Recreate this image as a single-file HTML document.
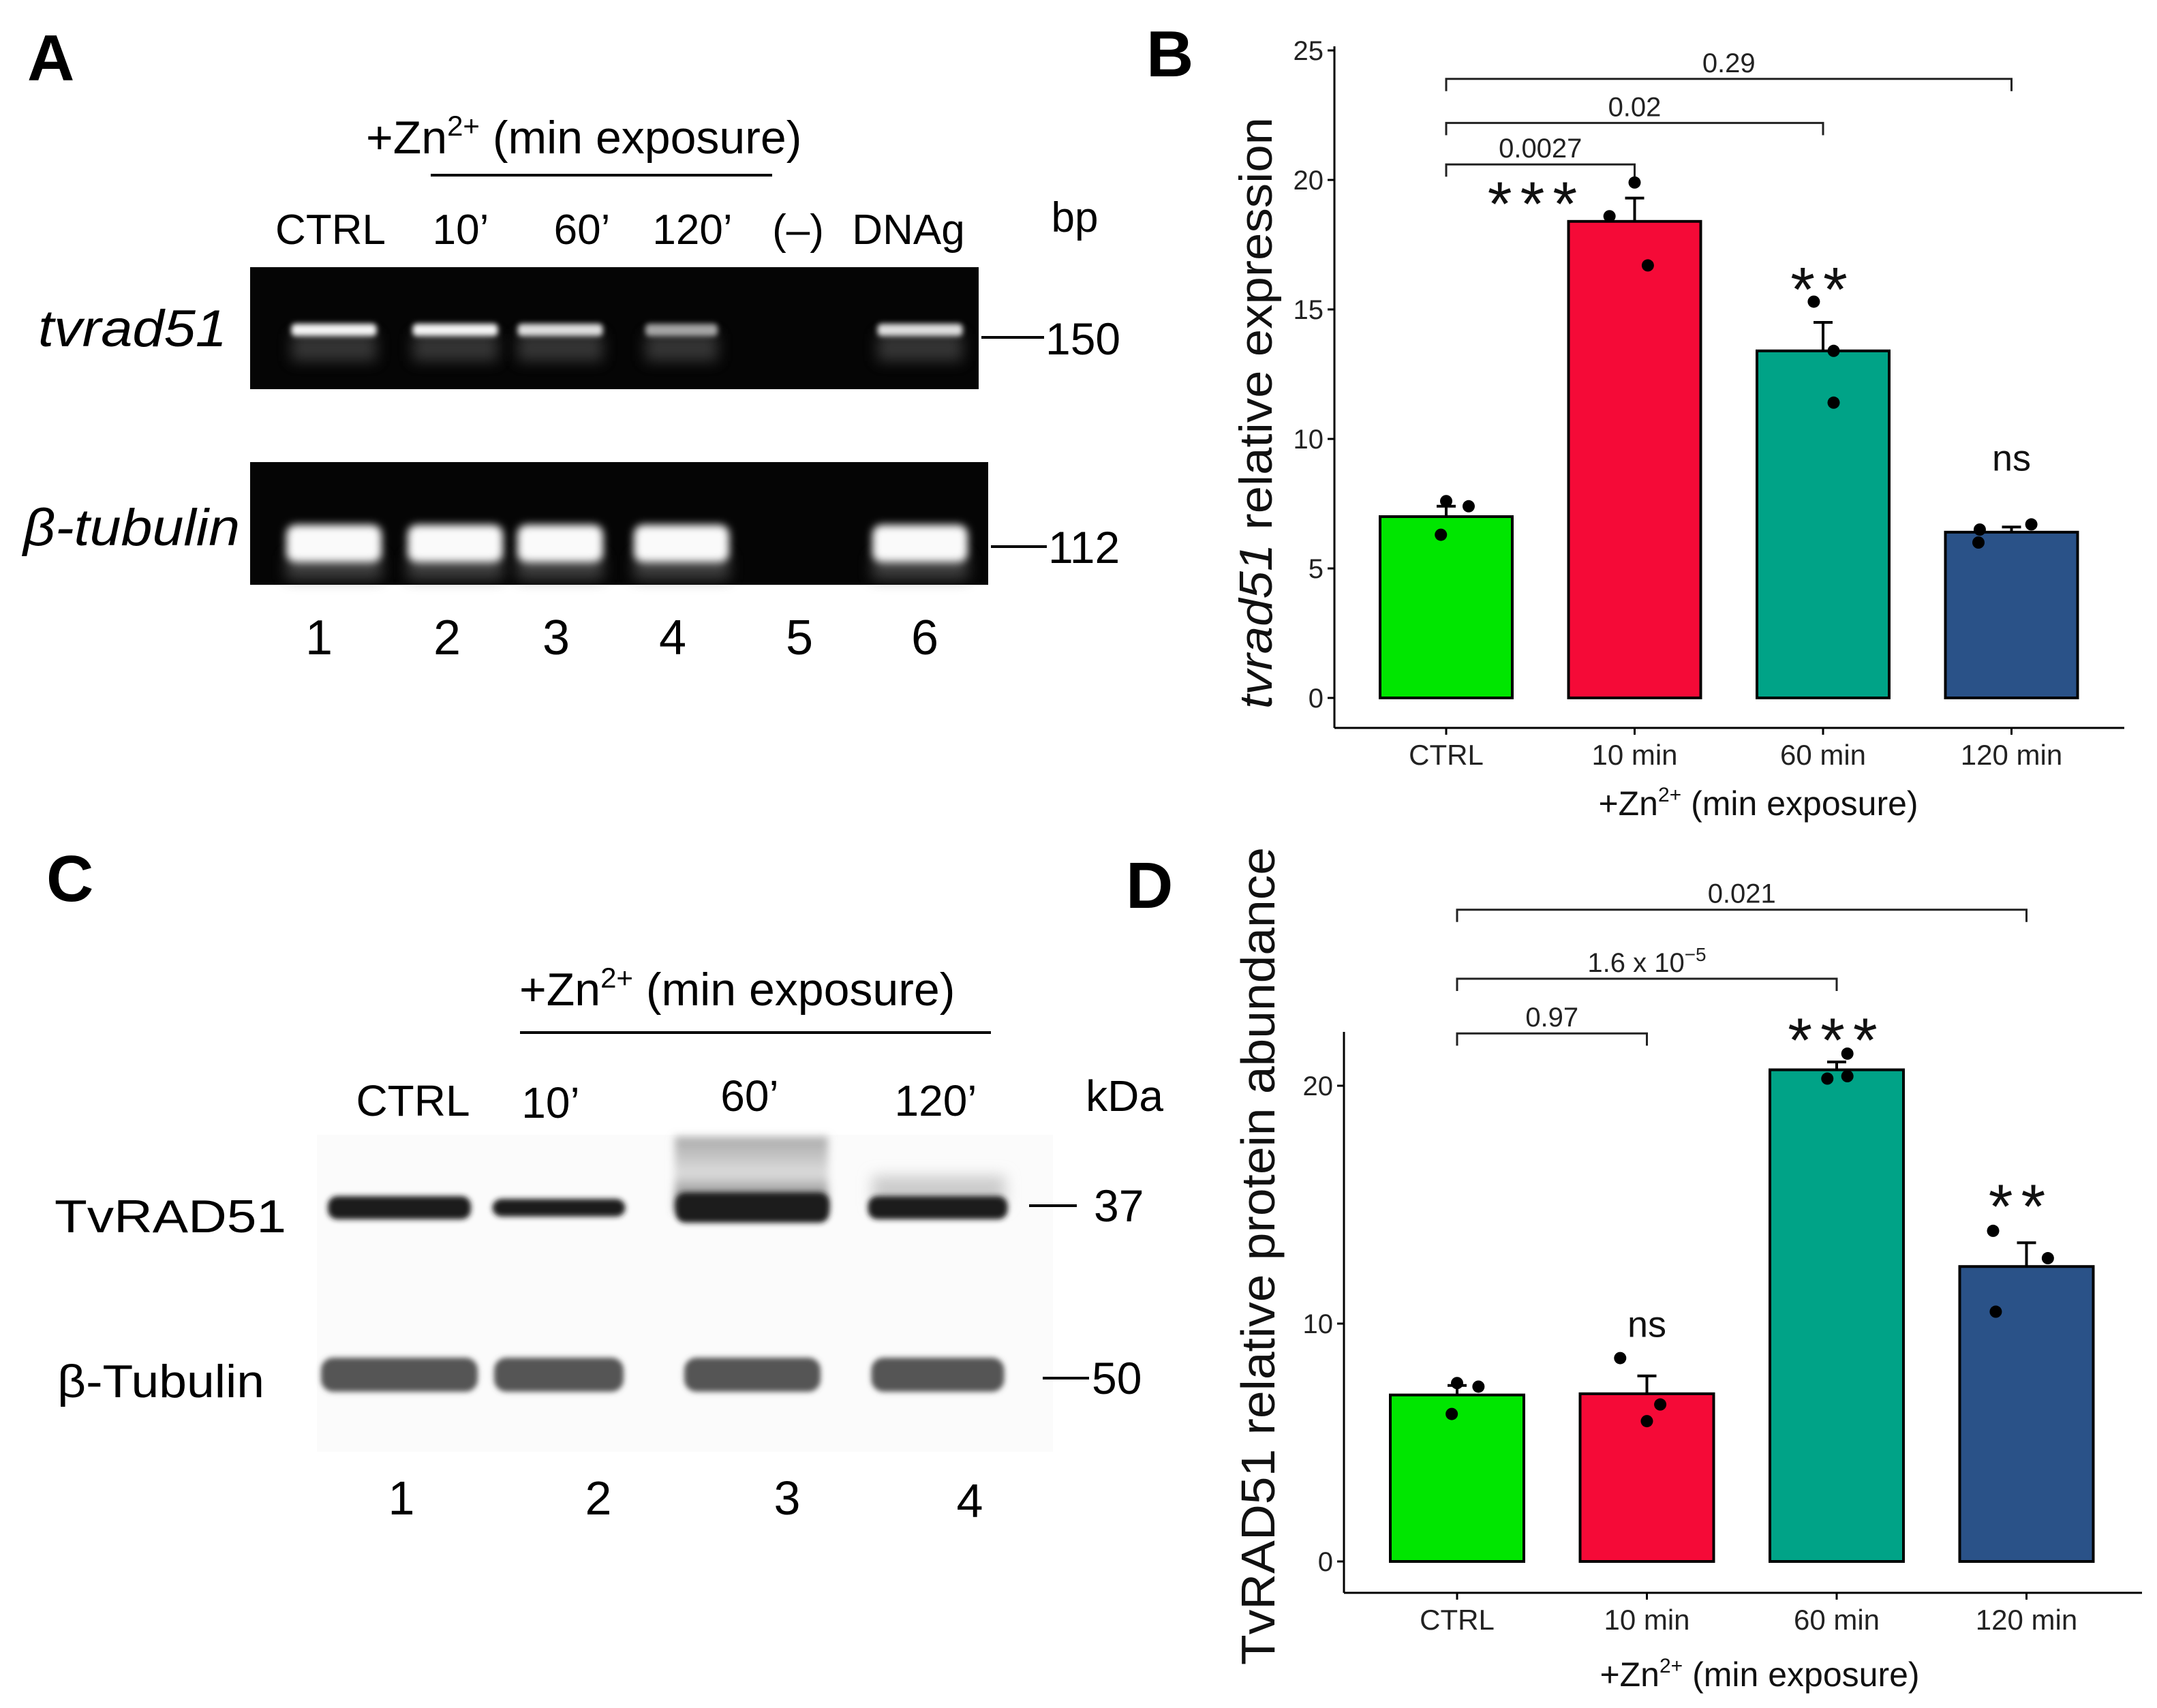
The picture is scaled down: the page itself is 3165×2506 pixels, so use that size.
<!DOCTYPE html>
<html><head><meta charset="utf-8">
<style>
html,body{margin:0;padding:0;background:#fff;}
svg{display:block;}
text{font-family:"Liberation Sans",Arial,sans-serif;}
.n{font-family:"Liberation Sans Narrow","Liberation Sans",sans-serif;}
</style></head>
<body>
<svg id="fig" width="3165" height="2506" viewBox="0 0 3165 2506" xmlns="http://www.w3.org/2000/svg">
<defs>
<filter id="b6" x="-20%" y="-100%" width="140%" height="300%"><feGaussianBlur stdDeviation="6"/></filter>
<filter id="b10" x="-20%" y="-100%" width="140%" height="300%"><feGaussianBlur stdDeviation="10"/></filter>
<filter id="b4" x="-20%" y="-100%" width="140%" height="300%"><feGaussianBlur stdDeviation="4"/></filter>
<linearGradient id="smear" x1="0" y1="0" x2="0" y2="1"><stop offset="0" stop-color="#aaa"/><stop offset="0.5" stop-color="#ddd"/><stop offset="1" stop-color="#555"/></linearGradient>
</defs>

<!-- Panel A -->
<g>
<text x="40" y="118" font-size="96" font-weight="bold">A</text>
<text class="n" x="537" y="225" font-size="68">+Zn<tspan dy="-26" font-size="42">2+</tspan><tspan dy="26"> (min exposure)</tspan></text>
<line x1="632" y1="257" x2="1133" y2="257" stroke="#000" stroke-width="4"/>
<g class="n" font-size="62" text-anchor="middle">
<text x="485" y="358">CTRL</text>
<text x="676" y="358">10’</text>
<text x="854" y="358">60’</text>
<text x="1016" y="358">120’</text>
<text x="1171" y="358">(–)</text>
<text x="1333" y="358">DNAg</text>
<text x="1577" y="340">bp</text>
</g>
<rect x="367" y="392" width="1069" height="179" fill="#050505"/>
<g id="gelA1"></g>
<rect x="367" y="678" width="1083" height="180" fill="#050505"/>
<g id="gelA2"></g>
<text class="n" x="56" y="508" font-size="76" font-style="italic" textLength="277" lengthAdjust="spacingAndGlyphs">tvrad51</text>
<text class="n" x="34" y="800" font-size="76" font-style="italic" textLength="318" lengthAdjust="spacingAndGlyphs">β-tubulin</text>
<line x1="1440" y1="495" x2="1532" y2="495" stroke="#000" stroke-width="4"/>
<text class="n" x="1534" y="520" font-size="66">150</text>
<line x1="1454" y1="802" x2="1536" y2="802" stroke="#000" stroke-width="4"/>
<text class="n" x="1538" y="826" font-size="66">112</text>
<g class="n" font-size="72" text-anchor="middle">
<text x="468" y="960">1</text>
<text x="656" y="960">2</text>
<text x="816" y="960">3</text>
<text x="987" y="960">4</text>
<text x="1173" y="960">5</text>
<text x="1357" y="960">6</text>
</g>
</g>

<!-- Panel C -->
<g>
<text x="68" y="1322" font-size="96" font-weight="bold">C</text>
<text class="n" x="762" y="1475" font-size="68">+Zn<tspan dy="-26" font-size="42">2+</tspan><tspan dy="26"> (min exposure)</tspan></text>
<line x1="763" y1="1515" x2="1454" y2="1515" stroke="#000" stroke-width="4"/>
<g class="n" font-size="64" text-anchor="middle">
<text x="606" y="1637">CTRL</text>
<text x="808" y="1640">10’</text>
<text x="1100" y="1630">60’</text>
<text x="1373" y="1637">120’</text>
<text x="1650" y="1630">kDa</text>
</g>
<rect x="465" y="1665" width="1080" height="465" fill="#fbfbfb"/>
<g id="wb"></g>
<text class="n" x="80" y="1808" font-size="68" textLength="340" lengthAdjust="spacingAndGlyphs">TvRAD51</text>
<text class="n" x="84" y="2050" font-size="68" textLength="304" lengthAdjust="spacingAndGlyphs">β-Tubulin</text>
<line x1="1510" y1="1769" x2="1580" y2="1769" stroke="#000" stroke-width="4"/>
<text class="n" x="1605" y="1792" font-size="66">37</text>
<line x1="1530" y1="2022" x2="1598" y2="2022" stroke="#000" stroke-width="4"/>
<text class="n" x="1602" y="2045" font-size="66">50</text>
<g class="n" font-size="70" text-anchor="middle">
<text x="589" y="2222">1</text>
<text x="878" y="2222">2</text>
<text x="1155" y="2222">3</text>
<text x="1423" y="2226">4</text>
</g>
</g>

<text x="1682" y="112" font-size="96" font-weight="bold">B</text>
<text x="1652" y="1332" font-size="96" font-weight="bold">D</text>
<g id="chartB"></g>
<g id="chartD"></g>
</svg>

<script>
// ---------- Chart B data ----------
const categoriesB = ["CTRL", "10 min", "60 min", "120 min"];
const meansB = [7.0, 18.4, 13.4, 6.4];
const errB = [7.4, 19.3, 14.5, 6.6];
const pointsB = [[7.6, 7.4, 6.3], [18.6, 19.9, 16.7], [15.3, 13.4, 11.4], [6.5, 6.0, 6.7]];
const jitterB = [[0, 0.17, -0.04], [-0.19, 0, 0.10], [-0.07, 0.08, 0.08], [-0.24, -0.25, 0.15]];
const ticksB = [0, 5, 10, 15, 20, 25];
const bracketsB = [[0, 1, 20.6, "0.0027"], [0, 2, 22.2, "0.02"], [0, 3, 23.9, "0.29"]];
const sigLabelsB = ["", "***", "**", "ns"];
const sigYB = [0, 19.6, 16.3, 9.2];

// ---------- Chart D data ----------
const categoriesD = ["CTRL", "10 min", "60 min", "120 min"];
const meansD = [7.0, 7.05, 20.67, 12.4];
const errD = [7.4, 7.8, 21.0, 13.4];
const pointsD = [[7.5, 7.35, 6.2], [8.55, 6.6, 5.9], [21.35, 20.3, 20.4], [13.9, 12.75, 10.5]];
const jitterD = [[0, 0.16, -0.04], [-0.2, 0.1, 0], [0.08, -0.07, 0.08], [-0.25, 0.16, -0.23]];
const ticksD = [0, 10, 20];
const bracketsD = [[0, 1, 22.2, "0.97"], [0, 2, 24.5, "1.6 x 10", "−5"], [0, 3, 27.4, "0.021"]];
const sigLabelsD = ["", "ns", "***", "**"];
const sigYD = [0, 9.9, 22.5, 15.5];

const colors = ["#00e600", "#f50a37", "#00a387", "#2a5288"];
const NS = "http://www.w3.org/2000/svg";
function mk(tag, attrs, parent) {
  const e = document.createElementNS(NS, tag);
  for (const k in attrs) e.setAttribute(k, attrs[k]);
  if (parent) parent.appendChild(e);
  return e;
}

function drawChart(g, o) {
  const y = v => o.y0 - v * o.unit;
  const x = i => o.x0 + i * o.step;
  const ya = mk("line", {x1: o.ax, y1: o.top, x2: o.ax, y2: o.axY, stroke: "#000", "stroke-width": 3}, g);
  
  
  const xa = mk("line", {x1: o.ax, y1: o.axY, x2: o.right, y2: o.axY, stroke: "#000", "stroke-width": 3}, g);
  
  
  o.ticks.forEach(t => {
    const tl = mk("line", {x1: o.ax - 10, y1: y(t), x2: o.ax, y2: y(t), stroke: "#000", "stroke-width": 3}, g);
    
    
    const tx = mk("text", {x: o.ax - 16, y: y(t) + 14, "font-size": 40, "text-anchor": "end", fill: "#222"}, g);
    tx.textContent = t;
    
    
  });
  o.cats.forEach((c, i) => {
    const tk = mk("line", {x1: x(i), y1: o.axY, x2: x(i), y2: o.axY + 10, stroke: "#000", "stroke-width": 3}, g);
    
    
    const tx = mk("text", {x: x(i), y: o.axY + 54, "font-size": 42, "text-anchor": "middle", fill: "#222"}, g);
    tx.textContent = c;
    
    
  });
  o.means.forEach((m, i) => {
    const b = mk("rect", {x: x(i) - o.bw / 2, y: y(m), width: o.bw, height: y(0) - y(m), fill: colors[i], stroke: "#000", "stroke-width": 4}, g);
    
    
    const e = mk("path", {d: `M${x(i)},${y(m)}V${y(o.err[i])}M${x(i) - 14},${y(o.err[i])}H${x(i) + 14}`, stroke: "#000", "stroke-width": 4, fill: "none"}, g);
    
    
  });
  o.points.forEach((arr, i) => arr.forEach((v, j) => {
    const p = mk("circle", {cx: x(i) + o.jit[i][j] * o.bw, cy: y(v), r: 9, fill: "#000"}, g);
    
    
  }));
  o.br.forEach(b => {
    const x1 = x(b[0]), x2 = x(b[1]), yy = y(b[2]);
    const p = mk("path", {d: `M${x1},${yy + 18}V${yy}H${x2}V${yy + 18}`, stroke: "#222", "stroke-width": 3, fill: "none"}, g);
    
    
    const t = mk("text", {x: (x1 + x2) / 2, y: yy - 10, "font-size": 40, "text-anchor": "middle", fill: "#222"}, g);
    t.textContent = b[3];
    if (b[4]) { const s = mk("tspan", {dy: -16, "font-size": 28}, t); s.textContent = b[4]; }
    
    
  });
  o.sig.forEach((s, i) => {
    if (!s) return;
    const star = s.indexOf("*") >= 0;
    const t = mk("text", {x: x(i) + (o.sigDx[i] || 0), y: y(o.sigY[i]) + (star ? 52 : 16), "font-size": star ? 92 : 54, "letter-spacing": star ? 12 : 0, "text-anchor": "middle", fill: "#111"}, g);
    t.textContent = s;
    
    
  });
  const xt = mk("text", {x: o.xtX, y: o.xtY, "font-size": 50, "text-anchor": "middle", fill: "#111"}, g);
  xt.innerHTML = '+Zn<tspan dy="-20" font-size="30">2+</tspan><tspan dy="20"> (min exposure)</tspan>';
  
  
  const yt = mk("text", {x: 0, y: 0, "font-size": o.ytSize, "text-anchor": "middle", fill: "#111", transform: `translate(${o.ytX},${o.ytY}) rotate(-90)`, textLength: o.ytLen, lengthAdjust: "spacingAndGlyphs"}, g);
  yt.innerHTML = o.ytHtml;
  
  
}

drawChart(document.getElementById("chartB"), {
  x0: 2122, step: 276.5, y0: 1024, unit: 38, ax: 1958, axY: 1068, top: 68, right: 3117, bw: 194,
  ticks: ticksB, cats: categoriesB, means: meansB, err: errB, points: pointsB, jit: jitterB, br: bracketsB,
  sig: sigLabelsB, sigY: sigYB, sigDx: [0, -144, 0, 0],
  xtX: 2580, xtY: 1196, ytX: 1866, ytY: 606, ytSize: 68, ytLen: 868,
  ytHtml: '<tspan font-style="italic">tvrad51</tspan> relative expression'
});
drawChart(document.getElementById("chartD"), {
  x0: 2138, step: 278.5, y0: 2291, unit: 34.9, ax: 1972, axY: 2337, top: 1514, right: 3143, bw: 196,
  ticks: ticksD, cats: categoriesD, means: meansD, err: errD, points: pointsD, jit: jitterD, br: bracketsD,
  sig: sigLabelsD, sigY: sigYD, sigDx: [0, 0, 0, -8],
  xtX: 2582, xtY: 2474, ytX: 1870, ytY: 1843, ytSize: 70, ytLen: 1200,
  ytHtml: 'TvRAD51 relative protein abundance'
});

// ---------- Gel (panel A) ----------
const laneXA = [490, 668, 822, 1000, 1171, 1350];
const bandA1 = [1, 1.1, 0.9, 0.65, 0, 0.9];
const bandA2 = [1, 1, 0.9, 1, 0, 1];
const gA1 = document.getElementById("gelA1"), gA2 = document.getElementById("gelA2");
laneXA.forEach((cx, i) => {
  if (bandA1[i] > 0) {
    const w = 125 * Math.min(1, bandA1[i] + 0.2);
    mk("rect", {x: cx - w / 2, y: 490, width: w, height: 40, fill: "#555", opacity: 0.6, filter: "url(#b10)"}, gA1);
    const r = mk("rect", {x: cx - w / 2, y: 475, width: w, height: 18, rx: 6, fill: "#f4f4f4", opacity: Math.min(1, bandA1[i]), filter: "url(#b4)"}, gA1);
    
    
  }
  if (bandA2[i] > 0) {
    const w = 140 * bandA2[i];
    mk("rect", {x: cx - w / 2, y: 815, width: w, height: 35, fill: "#666", opacity: 0.6, filter: "url(#b10)"}, gA2);
    const r = mk("rect", {x: cx - w / 2, y: 770, width: w, height: 55, rx: 14, fill: "#fafafa", filter: "url(#b6)"}, gA2);
    
    
  }
});

// ---------- Western blot (panel C) ----------
const laneXC = [586, 820, 1104, 1376];
const wbW1 = [210, 195, 225, 205];
const wbW2 = [230, 190, 200, 195];
const gw = document.getElementById("wb");
mk("rect", {x: 990, y: 1668, width: 225, height: 110, fill: "url(#smear)", filter: "url(#b6)"}, gw);
mk("rect", {x: 1280, y: 1725, width: 195, height: 45, fill: "#ccc", filter: "url(#b10)"}, gw);
laneXC.forEach((cx, i) => {
  const h = i === 2 ? 44 : (i === 1 ? 26 : 34);
  const r = mk("rect", {x: cx - wbW1[i] / 2, y: 1772 - h / 2, width: wbW1[i], height: h, rx: 14, fill: "#1e1e1e", filter: "url(#b4)"}, gw);
  
  
  const r2 = mk("rect", {x: cx - wbW2[i] / 2, y: 1992, width: wbW2[i], height: 50, rx: 18, fill: "#555", filter: "url(#b4)"}, gw);
  
  
});
</script>
</body></html>
